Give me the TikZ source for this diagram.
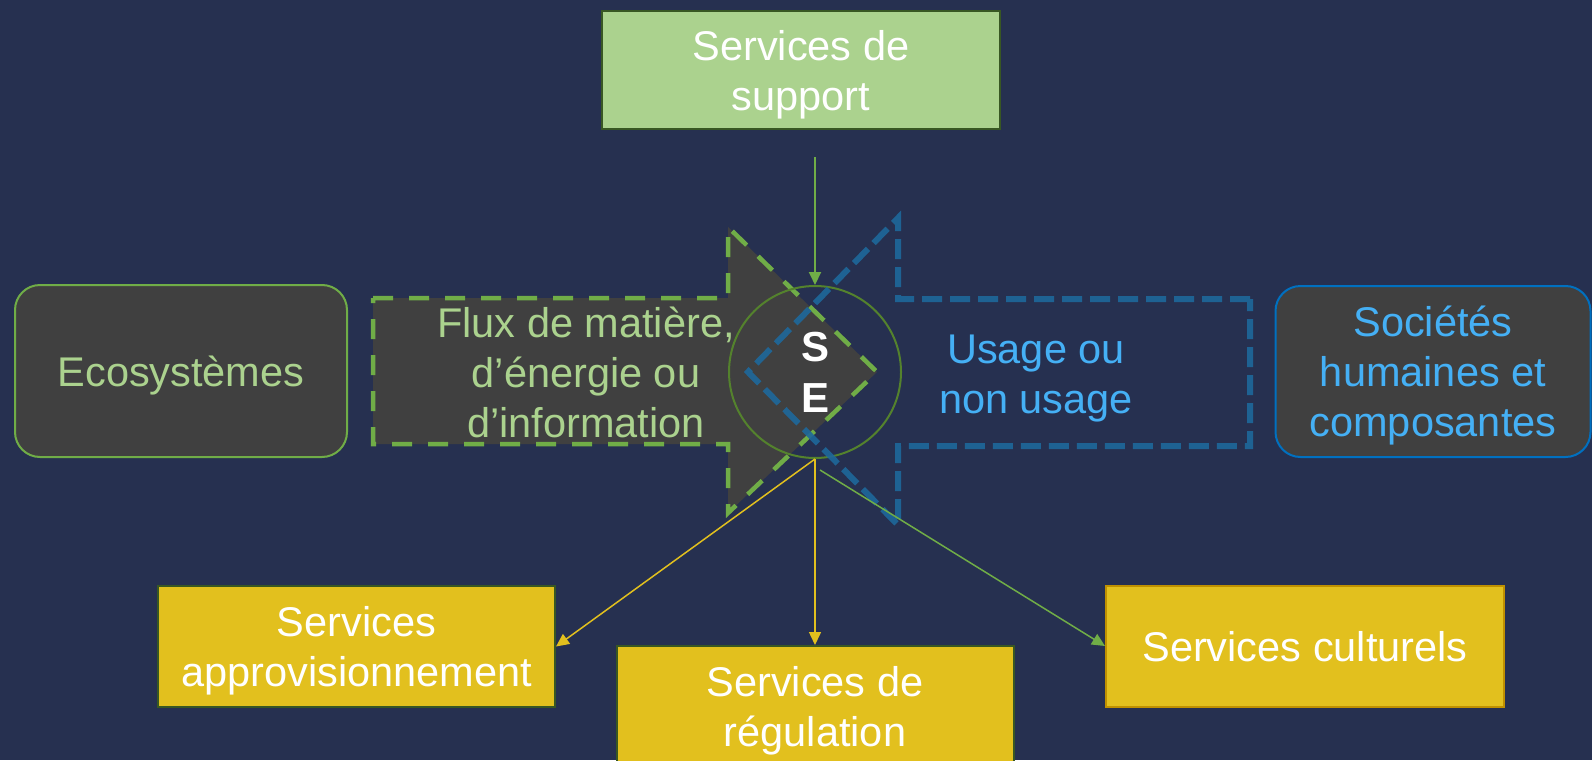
\documentclass[tikz,border=0pt]{standalone}
\usepackage{fontspec}
\setmainfont{Liberation Sans}
\usepackage{tikz}
\usetikzlibrary{arrows.meta, positioning, calc}
\usepackage{xcolor}
\definecolor{navybg}{RGB}{38,48,80}
\definecolor{boxgray}{RGB}{64,64,64}
\definecolor{seagreen}{RGB}{112,173,71}
\definecolor{palegreen}{RGB}{171,210,142}
\definecolor{darkolive}{RGB}{56,87,35}
\definecolor{ringgreen}{RGB}{84,130,45}
\definecolor{skyblue}{RGB}{69,176,245}
\definecolor{edgeblue}{RGB}{0,112,192}
\definecolor{dashblue}{RGB}{30,104,155}
\definecolor{sunyellow}{RGB}{226,192,30}
\definecolor{goldedge}{RGB}{191,144,0}
\newcommand{\diagfont}{\fontsize{41.5pt}{50pt}\selectfont}

\begin{document}
\begin{tikzpicture}[x=1pt, y=-1pt,
  sidebox/.style={fill=boxgray, line width=2pt, rounded corners=25pt, align=center, font=\diagfont, text depth=0pt},
  servbox/.style={fill=sunyellow, draw=darkolive, line width=2pt, text=white, align=center, font=\diagfont, text depth=0pt, minimum width=397pt, minimum height=121pt},
  plaintext/.style={align=center, font=\diagfont, text depth=0pt},
  flowarrow/.style={line width=1.5pt, -{Triangle[width=12pt,length=13pt]}},
]
\def\tipx{877}   % tip of the flux arrow
\def\neckx{728}

\useasboundingbox (0,0) rectangle (1592,760);
\fill[navybg] (0,0) rectangle (1592,760);

% Side boxes
\node[sidebox, draw=seagreen, text=palegreen, minimum width=332pt, minimum height=172pt] (eco) at (181,371) {Ecosystèmes};
\node[sidebox, draw=edgeblue, text=skyblue, minimum width=315pt, minimum height=171pt] (soc) at (1433,371.5) {Sociétés\\humaines et\\composantes};

% Supporting services
\node[fill=palegreen, draw=darkolive, line width=2pt, text=white, align=center, font=\diagfont, text depth=0pt, minimum width=398pt, minimum height=118pt] (support) at (801,70) {Services de\\support};

% === Flux arrow (towards society) ===
\draw[fill=boxgray, draw=seagreen, line width=4.5pt, dash pattern=on 20pt off 16pt]
  (373,298) -- (\neckx,298) -- (\neckx,227) -- (\tipx,372) -- (\neckx,513) -- (\neckx,444) -- (373,444) -- cycle;
\node[plaintext, text=palegreen] (flux) at (586,372) {Flux de matière,\\d’énergie ou\\d’information};

% === Ecosystem services ===
\node[circle, draw=ringgreen, line width=2pt, minimum size=172pt, text=white, align=center, font=\fontsize{42pt}{51pt}\selectfont\bfseries] (se) at (815,372) {S\\E};

% === Usage arrow (back to ecosystems) ===
\draw[draw=dashblue, draw opacity=0.9, line width=6pt, dash pattern=on 20pt off 8pt]
  (1250,299) -- (898,299) -- (898,218) -- (748,372) -- (898,525) -- (898,446) -- (1250,446) -- cycle;
\node[plaintext, text=skyblue] (usage) at (1036,374) {Usage ou\\non usage};

% Service boxes
\node[servbox] (appro) at (356.5,646.5) {Services\\approvisionnement};
\node[servbox] (regul) at (815,706.5) {Services de\\régulation};
\node[servbox, draw=goldedge, minimum width=398pt] (cult) at (1305,646) {Services culturels};

% Connectors
\coordinate (supstart) at (815,157);
\coordinate (cultstart) at (820,470);
\draw[flowarrow, seagreen, line width=2pt] (supstart) -- (se.north);
\draw[flowarrow, sunyellow] (se.south) -- (appro.east);
\draw[flowarrow, sunyellow] (se.south) -- (regul.north);
\draw[flowarrow, seagreen] (cultstart) -- (cult.west);
\end{tikzpicture}
\end{document}
